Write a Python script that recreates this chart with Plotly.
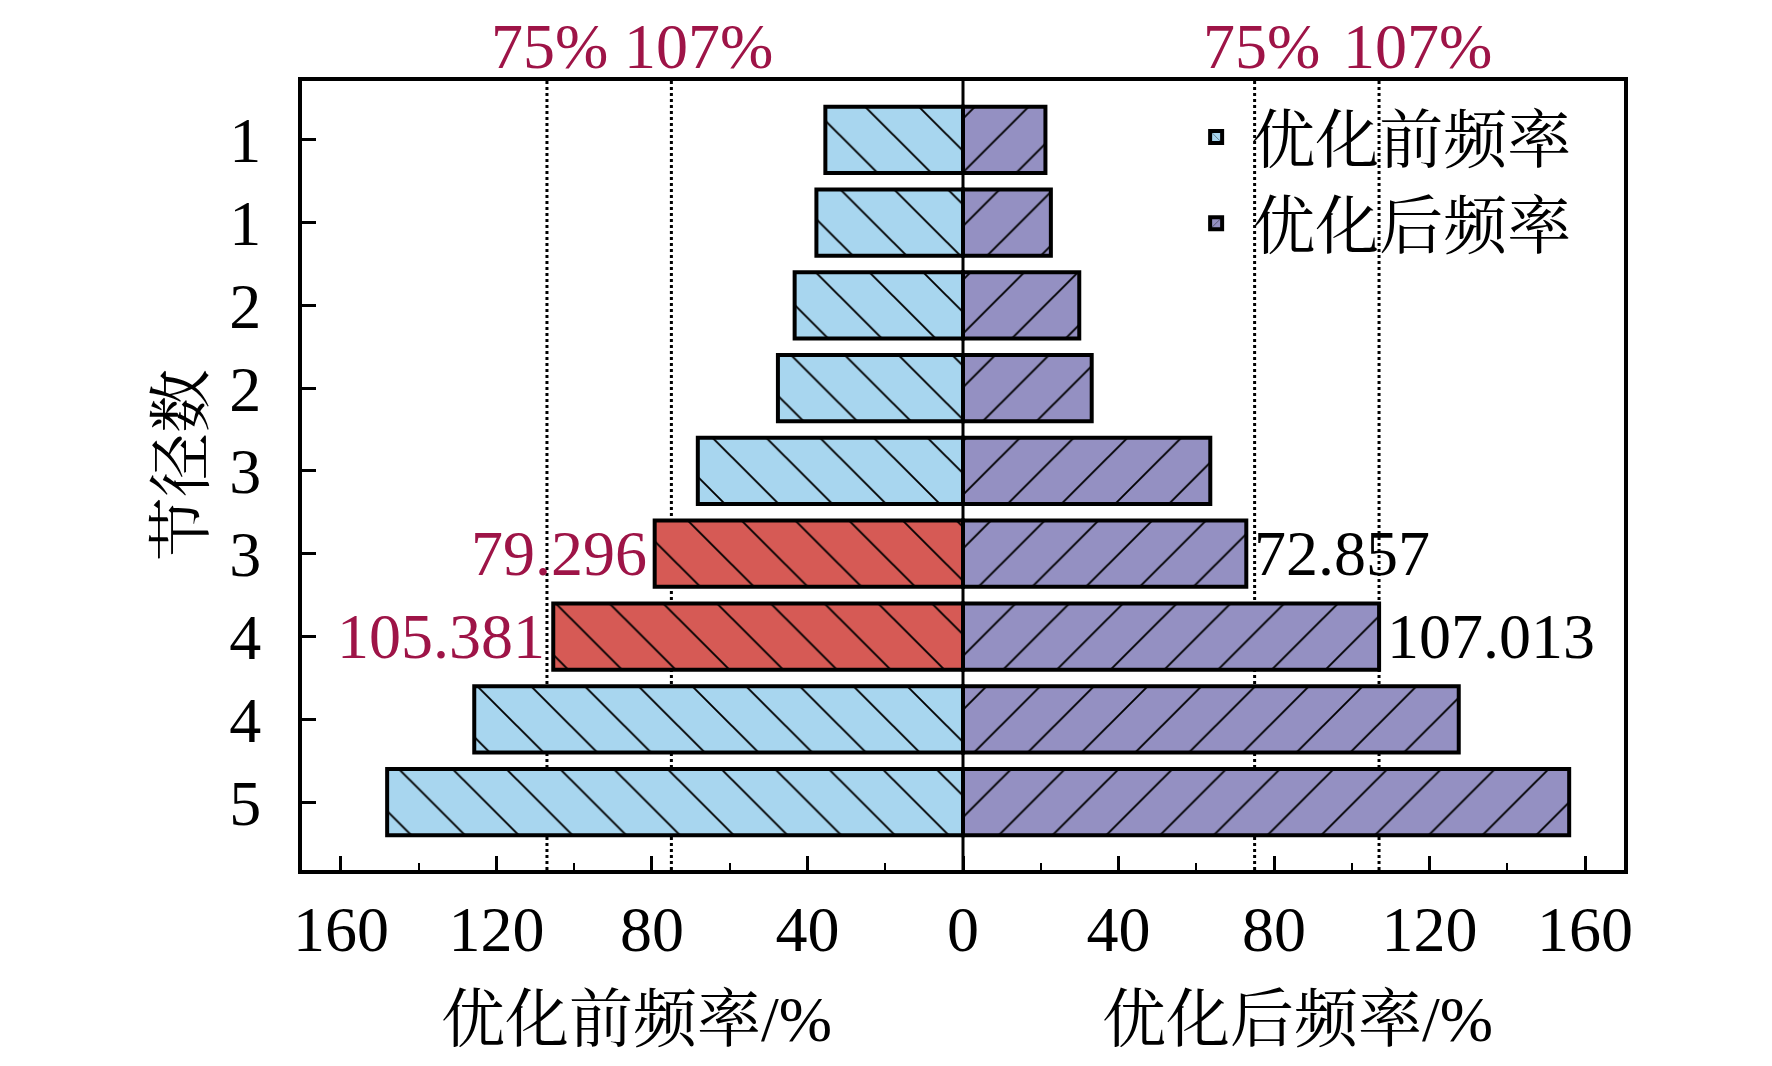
import plotly.graph_objects as go

# rows from top to bottom
row_pos = [1, 2, 3, 4, 5, 6, 7, 8, 9]
row_labels = ["1", "1", "2", "2", "3", "3", "4", "4", "5"]

before = [35.4, 37.7, 43.3, 47.6, 68.2, 79.296, 105.381, 125.7, 148.1]
after = [21.2, 22.6, 29.9, 33.1, 63.6, 72.857, 107.013, 127.5, 155.9]

# bars outside the 75%-107% band are highlighted
highlight = [False, False, False, False, False, True, True, False, False]

limits = [75, 107]
tick_vals = [-160, -120, -80, -40, 0, 40, 80, 120, 160]

font_family = "Liberation Serif, Noto Serif CJK SC, Noto Sans CJK SC"
fs = 64
label_red = "#9e1447"
blue = "#a8d6ef"
red = "#d65a55"
purple = "#9490c2"


def hatched(color, shape):
    return dict(color=color, line=dict(color="black", width=4),
                pattern=dict(shape=shape, fgcolor="black", bgcolor=color,
                             fgopacity=1, size=38, solidity=0.05, fillmode="replace"))


before_normal = [None if h else -v for v, h in zip(before, highlight)]
before_high = [-v if h else None for v, h in zip(before, highlight)]

fig = go.Figure()

fig.add_trace(go.Bar(y=row_pos, x=before_normal, orientation="h", width=0.8,
                     name="优化前频率", marker=hatched(blue, "\\")))
fig.add_trace(go.Bar(y=row_pos, x=after, orientation="h", width=0.8,
                     name="优化后频率", marker=hatched(purple, "/")))
fig.add_trace(go.Bar(y=row_pos, x=before_high, orientation="h", width=0.8,
                     name="优化前频率", showlegend=False, marker=hatched(red, "\\")))

# dotted reference lines at 75% and 107% on both sides
for v in limits:
    for s in (-1, 1):
        fig.add_shape(type="line", x0=s * v, x1=s * v, y0=0, y1=1,
                      xref="x", yref="paper", layer="below",
                      line=dict(color="black", width=3, dash="dot"))

# center line
fig.add_shape(type="line", x0=0, x1=0, y0=0, y1=1, xref="x", yref="paper",
              layer="above", line=dict(color="black", width=3))

# value labels on highlighted rows
for i, h in enumerate(highlight):
    if h:
        fig.add_annotation(x=-before[i], y=row_pos[i], text=f"{before[i]:.3f}",
                           xanchor="right", xshift=-6, showarrow=False,
                           font=dict(size=fs, color=label_red, family=font_family))
        fig.add_annotation(x=after[i], y=row_pos[i], text=f"{after[i]:.3f}",
                           xanchor="left", xshift=6, showarrow=False,
                           font=dict(size=fs, color="black", family=font_family))

# percent labels above the plot
top_labels = [("75%", -106.3), ("107%", -67.9), ("75%", 76.7), ("107%", 117)]
for txt, xpos in top_labels:
    fig.add_annotation(x=xpos, y=1.044, xref="x", yref="paper", text=txt,
                       yanchor="middle", showarrow=False,
                       font=dict(size=fs, color=label_red, family=font_family))

# axis titles
fig.add_annotation(x=-84, y=-0.19, xref="x", yref="paper", text="优化前频率/%",
                   yanchor="middle", showarrow=False,
                   font=dict(size=fs, color="black", family=font_family))
fig.add_annotation(x=86, y=-0.19, xref="x", yref="paper", text="优化后频率/%",
                   yanchor="middle", showarrow=False,
                   font=dict(size=fs, color="black", family=font_family))
fig.add_annotation(x=-0.091, y=0.513, xref="paper", yref="paper", text="节径数",
                   xanchor="center", yanchor="middle", textangle=-90, showarrow=False,
                   font=dict(size=fs, color="black", family=font_family))

fig.update_layout(
    width=1772, height=1066,
    margin=dict(l=294, r=156, t=73, b=204),
    paper_bgcolor="white", plot_bgcolor="white",
    barmode="overlay",
    font=dict(family=font_family, size=fs, color="black"),
    legend=dict(x=0.665, y=0.99, xanchor="left", yanchor="top",
                bgcolor="rgba(0,0,0,0)", font=dict(size=fs),
                itemwidth=60, tracegroupgap=0),
    showlegend=True,
)

fig.update_xaxes(
    range=[-170, 170], tickmode="array", tickvals=tick_vals,
    ticktext=[str(abs(v)) for v in tick_vals],
    ticks="inside", ticklen=14, tickwidth=3, tickcolor="black",
    minor=dict(ticks="inside", dtick=20, tick0=0, ticklen=7, tickwidth=2, tickcolor="black"),
    showline=True, linewidth=4, linecolor="black", mirror=True,
    showgrid=False, zeroline=False, ticklabelstandoff=0,
)
fig.update_yaxes(
    range=[9.82, 0.29], tickmode="array", tickvals=row_pos, ticktext=row_labels,
    ticks="inside", ticklen=14, tickwidth=3, tickcolor="black",
    showline=True, linewidth=4, linecolor="black", mirror=True,
    showgrid=False, zeroline=False, ticklabelstandoff=24,
)

fig.write_html("out.html")
